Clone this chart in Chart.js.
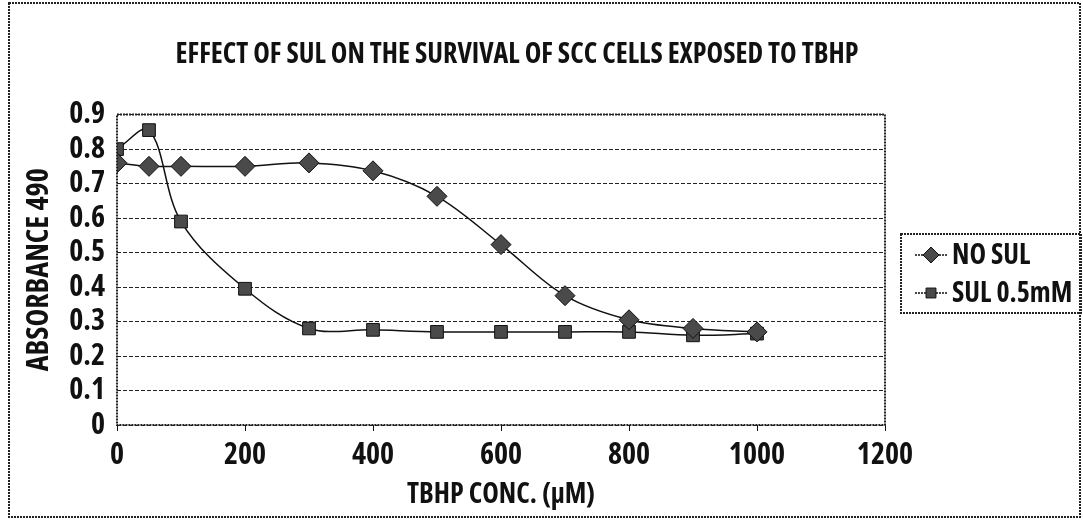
<!DOCTYPE html>
<html>
<head>
<meta charset="utf-8">
<script src="https://cdn.jsdelivr.net/npm/chart.js@4"></script>
<style>
  html, body { margin: 0; padding: 0; background: #fff; }
  #wrap { width: 1083px; height: 520px; position: relative; }
</style>
</head>
<body>
<div id="wrap"><canvas id="survivalChart" width="1083" height="520"></canvas></div>
<script>
const FONT = "'Open Sans', 'Roboto', sans-serif";
const WEIGHT = 'bold condensed';

const concentrations = [0, 50, 100, 200, 300, 400, 500, 600, 700, 800, 900, 1000];
const noSul = [0.76, 0.75, 0.75, 0.75, 0.76, 0.737, 0.663, 0.523, 0.375, 0.305, 0.28, 0.27];
const sul05 = [0.80, 0.855, 0.59, 0.395, 0.28, 0.276, 0.27, 0.27, 0.27, 0.27, 0.26, 0.265];
const seriesNames = ['NO SUL', 'SUL 0.5mM'];

const toPoints = (vals) => concentrations.map((c, i) => ({x: c, y: vals[i]}));

// frame, plot border and boxed legend
const decorations = {
    id: 'decorations',
    afterLayout(chart) {
        // centre the title the way the original does
        if (chart.titleBlock) {
            chart.titleBlock.left = 8;
            chart.titleBlock.right = 1026;
            chart.titleBlock.width = 1018;
        }
    },
    afterDraw(chart) {
        const c = chart.ctx;
        const a = chart.chartArea;
        c.save();
        c.strokeStyle = '#222';
        c.lineWidth = 2;
        c.setLineDash([2, 1]);
        c.strokeRect(9, 3, 1071, 514);
        c.strokeRect(a.left, a.top, a.right - a.left, a.bottom - a.top);

        // legend
        c.strokeRect(901, 234, 180, 79);
        const styles = ['rectRot', 'rect'];
        const rows = [255, 293];
        c.font = WEIGHT + ' 28px ' + FONT;
        c.textBaseline = 'middle';
        rows.forEach((y, i) => {
            c.setLineDash([2, 1]);
            c.lineWidth = 1.5;
            c.strokeStyle = '#111';
            c.beginPath();
            c.moveTo(915, y);
            c.lineTo(948, y);
            c.stroke();
            c.setLineDash([]);
            c.lineWidth = 1;
            c.fillStyle = '#4a4a4a';
            Chart.helpers.drawPoint(c, {
                pointStyle: styles[i], radius: i === 0 ? 8 : 7, borderWidth: 1
            }, 931, y);
            c.fillStyle = '#111';
            c.fillText(seriesNames[i], 952, y + 1);
        });
        c.restore();
    }
};

const data = {
    datasets: [
        {
            label: seriesNames[0],
            data: toPoints(noSul),
            borderColor: '#111',
            borderWidth: 1.5,
            pointStyle: 'rectRot',
            pointRadius: 10,
            pointBackgroundColor: '#4a4a4a',
            pointBorderColor: '#111',
            pointBorderWidth: 1,
            tension: 0.35
        },
        {
            label: seriesNames[1],
            data: toPoints(sul05),
            borderColor: '#111',
            borderWidth: 1.5,
            pointStyle: 'rect',
            pointRadius: 9,
            pointBackgroundColor: '#4a4a4a',
            pointBorderColor: '#111',
            pointBorderWidth: 1,
            tension: 0.35
        }
    ]
};

const config = {
    type: 'line',
    data: data,
    options: {
        responsive: false,
        animation: false,
        layout: {
            padding: {left: 8, right: 198, top: 0, bottom: 0}
        },
        plugins: {
            legend: {display: false},
            tooltip: {enabled: false},
            title: {
                display: true,
                text: 'EFFECT OF SUL ON THE SURVIVAL OF SCC CELLS EXPOSED TO TBHP',
                color: '#111',
                font: {family: FONT, size: 28, weight: WEIGHT, lineHeight: 1.2},
                padding: {top: 38, bottom: 43}
            }
        },
        scales: {
            x: {
                type: 'linear',
                min: 0,
                max: 1200,
                afterFit: (scale) => { scale.height = 95; },
                ticks: {
                    stepSize: 200,
                    color: '#111',
                    padding: 6,
                    font: {family: FONT, size: 30, weight: WEIGHT},
                    callback: (v) => String(v)
                },
                grid: {
                    display: true,
                    drawOnChartArea: false,
                    drawTicks: true,
                    tickLength: 6,
                    tickColor: '#111'
                },
                border: {display: false},
                title: {
                    display: true,
                    text: 'TBHP CONC. (μM)',
                    color: '#111',
                    font: {family: FONT, size: 28, weight: WEIGHT, lineHeight: 1.2},
                    padding: {top: 0, bottom: 8}
                }
            },
            y: {
                min: 0,
                max: 0.9,
                afterFit: (scale) => { scale.width = 109; },
                ticks: {
                    stepSize: 0.1,
                    autoSkip: false,
                    color: '#111',
                    padding: 12,
                    font: {family: FONT, size: 30, weight: WEIGHT},
                    callback: (v) => Number(v.toFixed(1)).toString()
                },
                grid: {
                    color: '#222',
                    lineWidth: 1,
                    drawTicks: false
                },
                border: {display: false, dash: [4, 2]},
                title: {
                    display: true,
                    text: 'ABSORBANCE 490',
                    color: '#111',
                    font: {family: FONT, size: 30, weight: WEIGHT, lineHeight: 1.2},
                    padding: {top: 13, bottom: 0}
                }
            }
        }
    },
    plugins: [decorations]
};

const myChart = new Chart(document.getElementById('survivalChart').getContext('2d'), config);
</script>
</body>
</html>
